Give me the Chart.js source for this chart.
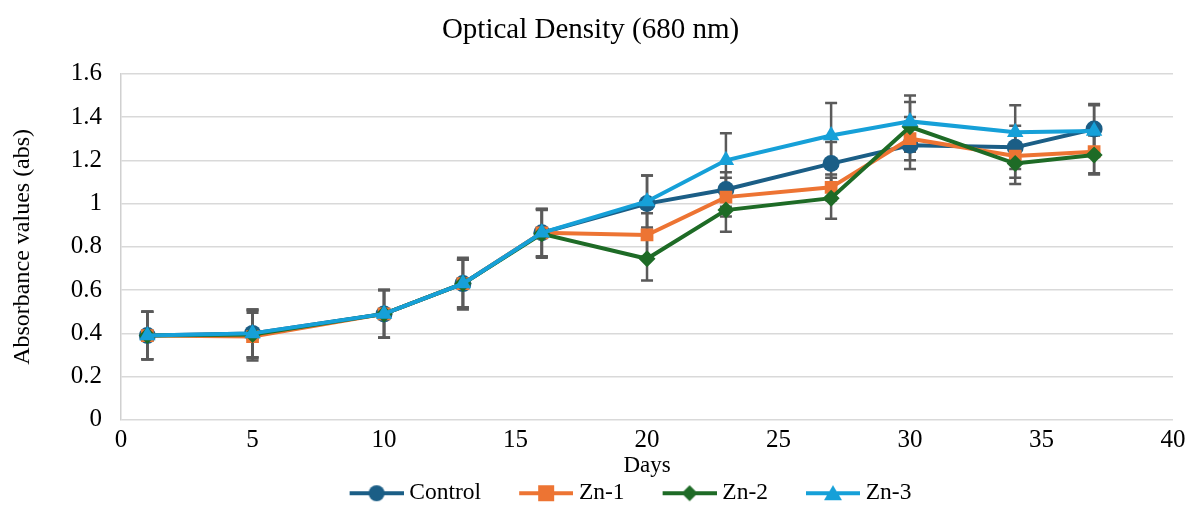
<!DOCTYPE html>
<html>
<head>
<meta charset="utf-8">
<script src="https://cdn.jsdelivr.net/npm/chart.js@4/dist/chart.umd.min.js"></script>
<style>
html,body{margin:0;padding:0;background:#fff;}
#wrap{width:1193px;height:507px;}
</style>
</head>
<body>
<div id="wrap"><canvas id="myChart" width="1193" height="507"></canvas></div>
<script>
'use strict';
const days=[1,5,10,13,16,20,23,27,30,34,37];
const xTicks=[0,5,10,15,20,25,30,35,40];
const yTicks=[0,0.2,0.4,0.6,0.8,1,1.2,1.4,1.6];

const control=[0.39,0.40,0.49,0.63,0.865,1.0,1.065,1.185,1.27,1.26,1.345];
const zn1=[0.39,0.385,0.49,0.63,0.865,0.855,1.03,1.075,1.30,1.22,1.24];
const zn2=[0.39,0.395,0.49,0.63,0.86,0.745,0.97,1.025,1.355,1.185,1.225];
const zn3=[0.39,0.40,0.49,0.63,0.865,1.01,1.20,1.315,1.38,1.33,1.335];

const controlErr=[0.11,0.11,0.11,0.11,0.11,0.13,0.08,0.10,0.11,0.10,0.115];
const zn1Err=[0.11,0.11,0.11,0.11,0.11,0.10,0.09,0.06,0.10,0.10,0.10];
const zn2Err=[0.11,0.11,0.11,0.11,0.11,0.10,0.10,0.095,0.115,0.095,0.09];
const zn3Err=[0.11,0.11,0.11,0.12,0.11,0.12,0.125,0.15,0.12,0.125,0.12];

const font="'Liberation Serif','Times New Roman',serif";

function toPoints(ys){
    return days.map((d,i)=>({x:d,y:ys[i]}));
}

// legend symbol: blank gap on the left, then line with marker
function legendIcon(color,style){
    const c=document.createElement('canvas');
    c.width=96;c.height=20;
    const g=c.getContext('2d');
    const x0=42,x1=96,mx=69,my=10;
    g.strokeStyle=color;g.lineWidth=4;
    g.beginPath();g.moveTo(x0,my);g.lineTo(x1,my);g.stroke();
    g.fillStyle=color;
    g.beginPath();
    if(style==='circle'){g.arc(mx,my,8,0,Math.PI*2);}
    else if(style==='rect'){g.rect(mx-8,my-8,16,16);}
    else if(style==='rectRot'){g.moveTo(mx,my-8);g.lineTo(mx+8,my);g.lineTo(mx,my+8);g.lineTo(mx-8,my);g.closePath();}
    else {g.moveTo(mx,my-8);g.lineTo(mx+9,my+7);g.lineTo(mx-9,my+7);g.closePath();}
    g.fill();
    return c;
}

const series=[
    {label:'Control',data:control,err:controlErr,color:'#1b5e86',style:'circle',r:8.5,order:3},
    {label:'Zn-1',data:zn1,err:zn1Err,color:'#ed7433',style:'rect',r:9,order:2},
    {label:'Zn-2',data:zn2,err:zn2Err,color:'#1e6b26',style:'rectRot',r:8.5,order:1},
    {label:'Zn-3',data:zn3,err:zn3Err,color:'#16a0d8',style:'triangle',r:9.5,order:0}
];

// error bars drawn under the lines
const errorBars={
    id:'errorBars',
    beforeDatasetsDraw(chart){
        const ctx=chart.ctx;
        const xs=chart.scales.x, ys=chart.scales.y;
        ctx.save();
        ctx.strokeStyle='#5a5a5a';
        ctx.lineWidth=2.5;
        chart.data.datasets.forEach(ds=>{
            ds.data.forEach((p,i)=>{
                const x=xs.getPixelForValue(p.x);
                const top=ys.getPixelForValue(p.y+ds.errors[i]);
                const bot=ys.getPixelForValue(p.y-ds.errors[i]);
                ctx.beginPath();
                ctx.moveTo(x,top);ctx.lineTo(x,bot);
                ctx.moveTo(x-6,top);ctx.lineTo(x+6,top);
                ctx.moveTo(x-6,bot);ctx.lineTo(x+6,bot);
                ctx.stroke();
            });
        });
        ctx.restore();
    }
};

// nudge the legend row a bit to the right, like the original
const legendShift={
    id:'legendShift',
    afterLayout(chart){
        chart.legend.left+=22;
        chart.legend.right+=22;
    }
};

const ctx=document.getElementById('myChart').getContext('2d');
const myChart=new Chart(ctx,{
    type:'line',
    data:{
        datasets:series.map(s=>({
            label:s.label,
            data:toPoints(s.data),
            errors:s.err,
            order:s.order,
            borderColor:s.color,
            backgroundColor:s.color,
            borderWidth:4,
            pointStyle:s.style,
            pointRadius:s.r,
            pointHoverRadius:s.r,
            pointBorderWidth:0,
            legendIcon:legendIcon(s.color,s.style),
            tension:0
        }))
    },
    options:{
        responsive:false,
        animation:false,
        layout:{padding:{left:8,right:20,top:0,bottom:-8}},
        plugins:{
            title:{
                display:true,
                text:'Optical Density (680 nm)',
                color:'#000',
                font:{family:font,size:29,weight:'normal'},
                padding:{top:13,bottom:26}
            },
            legend:{
                position:'bottom',
                labels:{
                    color:'#000',
                    font:{family:font,size:23.5},
                    usePointStyle:true,
                    pointStyleWidth:84,
                    padding:2,
                    generateLabels(chart){
                        return chart.data.datasets.map((ds,i)=>({
                            text:ds.label,
                            pointStyle:ds.legendIcon,
                            fillStyle:ds.borderColor,
                            strokeStyle:ds.borderColor,
                            lineWidth:0,
                            fontColor:'#000',
                            datasetIndex:i
                        }));
                    }
                }
            },
            tooltip:{enabled:false}
        },
        scales:{
            x:{
                type:'linear',
                min:0,max:40,
                afterBuildTicks(axis){axis.ticks=xTicks.map(v=>({value:v}));},
                grid:{display:false,drawTicks:false},
                border:{display:false},
                ticks:{color:'#000',font:{family:font,size:25},padding:6,maxRotation:0},
                title:{display:true,text:'Days',color:'#000',font:{family:font,size:23},padding:{top:-10,bottom:0}}
            },
            y:{
                min:0,max:1.6,
                afterBuildTicks(axis){axis.ticks=yTicks.map(v=>({value:v}));},
                grid:{color:'#d9d9d9',lineWidth:1.5,drawTicks:false},
                border:{display:true,color:'#d0d0d0',width:1.5},
                ticks:{color:'#000',font:{family:font,size:25},padding:19,callback:v=>String(v)},
                title:{display:true,text:'Absorbance values (abs)',color:'#000',font:{family:font,size:24},padding:{top:0,bottom:15}}
            }
        }
    },
    plugins:[errorBars,legendShift]
});
</script>
</body>
</html>
